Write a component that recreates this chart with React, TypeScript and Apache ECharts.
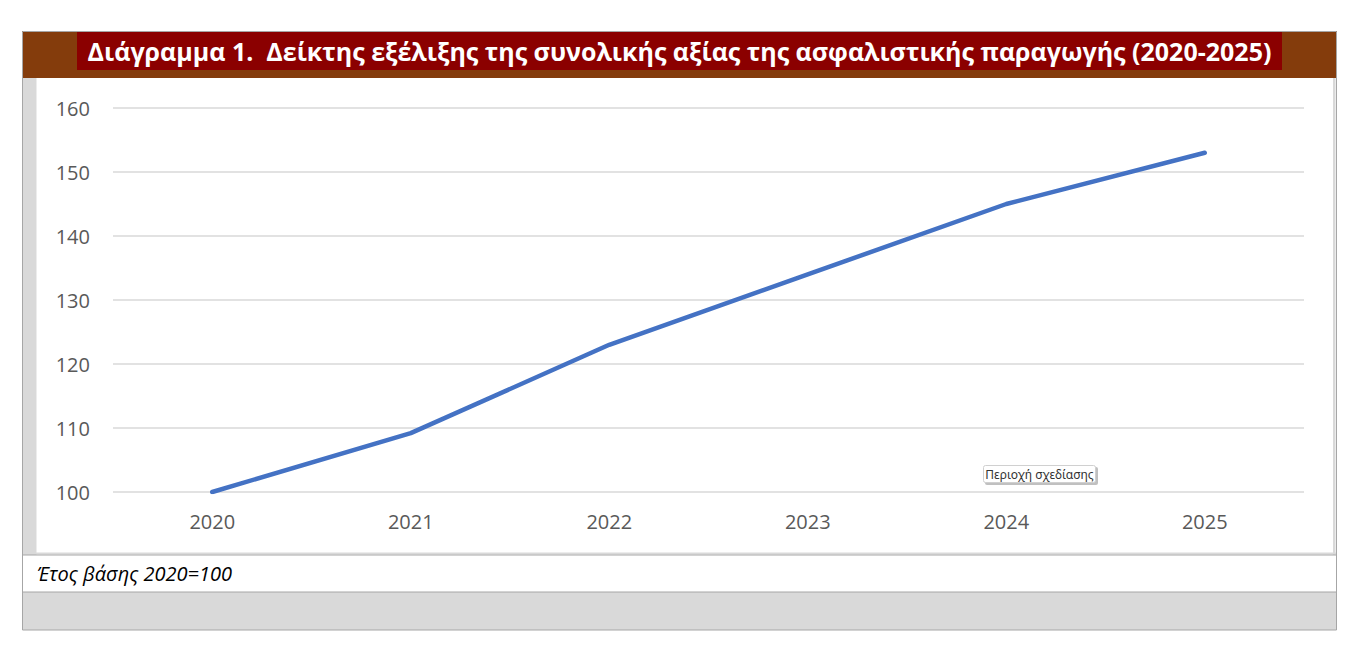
import React, { useEffect, useRef } from "react";
import * as echarts from "echarts";

const years = ["2020", "2021", "2022", "2023", "2024", "2025"];
const indexValues = [100, 109.2, 123, 134, 145, 153];
const yTicks = { min: 100, max: 160, interval: 10 };
const titleText = "Διάγραμμα 1.  Δείκτης εξέλιξης της συνολικής αξίας της ασφαλιστικής παραγωγής (2020-2025)";
const noteText = "Έτος βάσης 2020=100";
const hoverText = "Περιοχή σχεδίασης";

export default function App() {
  const ref = useRef<HTMLDivElement>(null);
  useEffect(() => {
    document.body.style.margin = "0";
    const chart = echarts.init(ref.current!, null, { renderer: "svg" });
    chart.setOption({
      animation: false,
      backgroundColor: "#ffffff",
      grid: { left: 113, right: 61, top: 108, bottom: 160, containLabel: false },
      xAxis: {
        type: "category",
        data: years,
        boundaryGap: true,
        axisLine: { show: false },
        axisTick: { show: false },
        axisLabel: { color: "#595959", fontSize: 20, fontFamily: "Open Sans", margin: 19 },
      },
      yAxis: {
        type: "value",
        min: yTicks.min,
        max: yTicks.max,
        interval: yTicks.interval,
        axisLine: { show: false },
        axisTick: { show: false },
        axisLabel: { color: "#595959", fontSize: 20, fontFamily: "Open Sans", margin: 23 },
        splitLine: { lineStyle: { color: "#d9d9d9", width: 1.5 } },
      },
      series: [
        {
          type: "line",
          data: indexValues,
          symbol: "none",
          lineStyle: { color: "#4472C4", width: 4.5, cap: "round", join: "round" },
          z: 5,
        },
      ],
      graphic: [
        { type: "rect", z: -10, shape: { x: 22, y: 31, width: 1315, height: 47 }, style: { fill: "#843C0C" } },
        { type: "rect", z: -9, shape: { x: 77, y: 32, width: 1205, height: 38 }, style: { fill: "#8B0000" } },
        {
          type: "text",
          z: 10,
          x: 679.5,
          y: 51,
          style: {
            text: titleText,
            fill: "#ffffff",
            fontSize: 25,
            fontWeight: "bold",
            fontFamily: "Open Sans",
            align: "center",
            verticalAlign: "middle",
          },
        },
        { type: "rect", z: -10, shape: { x: 22, y: 78, width: 14.5, height: 477 }, style: { fill: "#d9d9d9" } },
        { type: "rect", z: -10, shape: { x: 1333, y: 78, width: 2.5, height: 477 }, style: { fill: "#d9d9d9" } },
        { type: "rect", z: -10, shape: { x: 22, y: 552.5, width: 1314, height: 2 }, style: { fill: "#d9d9d9" } },
        { type: "line", z: 1, shape: { x1: 22, y1: 555, x2: 1337, y2: 555 }, style: { stroke: "#a6a6a6", lineWidth: 1 } },
        {
          type: "text",
          z: 10,
          x: 37,
          y: 573,
          style: {
            text: noteText,
            fill: "#000000",
            fontSize: 20,
            fontStyle: "italic",
            fontFamily: "Open Sans",
            align: "left",
            verticalAlign: "middle",
          },
        },
        { type: "rect", z: -10, shape: { x: 22, y: 592, width: 1315, height: 38 }, style: { fill: "#d9d9d9" } },
        { type: "line", z: 1, shape: { x1: 22, y1: 592, x2: 1337, y2: 592 }, style: { stroke: "#a6a6a6", lineWidth: 1 } },
        {
          type: "rect",
          z: 2,
          shape: { x: 22.5, y: 31.5, width: 1314, height: 598.5 },
          style: { fill: "none", stroke: "#a6a6a6", lineWidth: 1 },
        },
        {
          type: "rect",
          z: 20,
          shape: { x: 985, y: 467, width: 113, height: 18, r: 2 },
          style: { fill: "#c0c0c0" },
        },
        {
          type: "rect",
          z: 21,
          shape: { x: 983.5, y: 465.5, width: 112, height: 17, r: 2 },
          style: { fill: "#ffffff", stroke: "#d0d0d0", lineWidth: 1 },
        },
        {
          type: "text",
          z: 22,
          x: 1039.5,
          y: 474.5,
          style: {
            text: hoverText,
            fill: "#333333",
            fontSize: 12,
            fontFamily: "Noto Sans",
            align: "center",
            verticalAlign: "middle",
          },
        },
      ],
    });
    return () => chart.dispose();
  }, []);
  return <div ref={ref} style={{ width: 1365, height: 652 }} />;
}
